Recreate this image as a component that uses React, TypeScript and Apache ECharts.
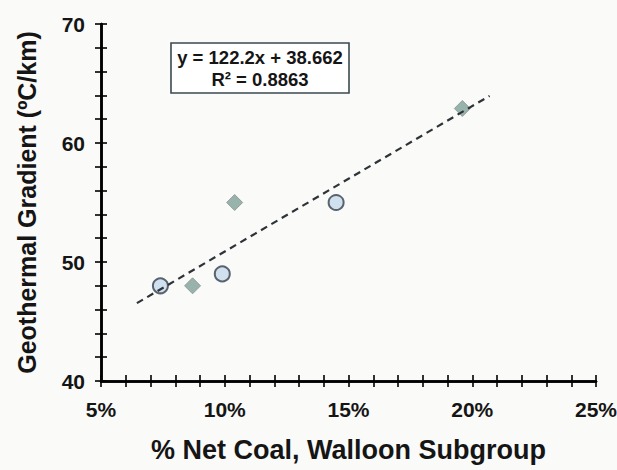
import React, { useEffect, useRef } from "react";
import * as echarts from "echarts";

// % net coal (x, in %) vs geothermal gradient (y, °C/km)
const circleX = [7.4, 9.9, 14.5];
const circleY = [48, 49, 55];
const diamondX = [8.7, 10.4, 19.6];
const diamondY = [48, 55, 62.9];
// trendline endpoints (y = 122.2x + 38.662)
const trendX = [6.45, 20.7];
const trendY = [46.54, 63.96];
const xTicks = ["5%", "10%", "15%", "20%", "25%"];
const yTicks = ["40", "50", "60", "70"];
const xTitle = "% Net Coal, Walloon Subgroup";
const yTitle = "Geothermal Gradient (ºC/km)";
const equationText = "y = 122.2x + 38.662";
const r2Text = "R² = 0.8863";

const FONT = "Liberation Sans, Arial, sans-serif";

export default function App() {
  const ref = useRef<HTMLDivElement>(null);
  useEffect(() => {
    if (!ref.current) return;
    const chart = echarts.init(ref.current, null, { renderer: "svg" });
    chart.setOption({
      animation: false,
      backgroundColor: "#fafaf8",
      title: {
        text: equationText + "\n" + r2Text,
        left: 254,
        top: 43,
        textAlign: "center",
        padding: [3, 6, 3, 6],
        borderColor: "#3a4a50",
        borderWidth: 1.6,
        backgroundColor: "#ffffff",
        textStyle: { color: "#151515", fontFamily: FONT, fontWeight: "bold", fontSize: 18.5, lineHeight: 22 },
      },
      grid: { left: 101, right: 21, top: 24, bottom: 89, outerBoundsMode: "none" },
      xAxis: [
        {
          type: "value", min: 5, max: 25, interval: 1, position: "bottom", splitLine: { show: false },
          axisLine: { show: true, onZero: false, lineStyle: { color: "#000000", width: 2.5 } },
          axisTick: { show: true, length: 6, lineStyle: { color: "#000000", width: 1.6 } },
          axisLabel: {
            margin: 18, color: "#151515", fontFamily: FONT, fontWeight: "bold", fontSize: 21,
            formatter: (v: number) => {
              const i = xTicks.indexOf(`${v}%`);
              return i >= 0 ? xTicks[i] : "";
            },
          },
          name: xTitle, nameLocation: "middle", nameGap: 55,
          nameTextStyle: { color: "#151515", fontFamily: FONT, fontWeight: "bold", fontSize: 27 },
        },
        {
          type: "value", min: 5, max: 25, interval: 1, position: "bottom", splitLine: { show: false },
          axisLine: { show: true, onZero: false, lineStyle: { color: "#000000", width: 2.5 } },
          axisTick: { show: true, inside: true, length: 6, lineStyle: { color: "#000000", width: 1.6 } },
          axisLabel: { show: false },
        },
      ],
      yAxis: [
        {
          type: "value", min: 40, max: 70, interval: 2, position: "left", splitLine: { show: false },
          axisLine: { show: true, onZero: false, lineStyle: { color: "#000000", width: 2.5 } },
          axisTick: { show: true, length: 6, lineStyle: { color: "#000000", width: 1.6 } },
          axisLabel: {
            margin: 16, color: "#151515", fontFamily: FONT, fontWeight: "bold", fontSize: 21,
            formatter: (v: number) => (yTicks.includes(String(v)) ? String(v) : ""),
          },
          name: yTitle, nameLocation: "middle", nameGap: 62,
          nameTextStyle: { color: "#151515", fontFamily: FONT, fontWeight: "bold", fontSize: 25 },
        },
        {
          type: "value", min: 40, max: 70, interval: 2, position: "left", splitLine: { show: false },
          axisLine: { show: true, onZero: false, lineStyle: { color: "#000000", width: 2.5 } },
          axisTick: { show: true, inside: true, length: 6, lineStyle: { color: "#000000", width: 1.6 } },
          axisLabel: { show: false },
        },
      ],
      series: [
        {
          type: "scatter",
          data: circleX.map((x, i) => [x, circleY[i]]),
          symbol: "circle",
          symbolSize: 15,
          itemStyle: { color: "#c6daec", borderColor: "#35404c", borderWidth: 2 },
          z: 3,
          markLine: {
            silent: true,
            symbol: ["none", "none"],
            label: { show: false },
            lineStyle: { color: "#2e3338", width: 2.2, type: [7, 5] },
            data: [[{ coord: [trendX[0], trendY[0]] }, { coord: [trendX[1], trendY[1]] }]],
          },
        },
        {
          type: "scatter",
          data: diamondX.map((x, i) => [x, diamondY[i]]),
          symbol: "diamond",
          symbolSize: 16,
          itemStyle: { color: "#7fa198", borderColor: "#8a9094", borderWidth: 1 },
          z: 3,
        },
      ],
    });
    return () => chart.dispose();
  }, []);
  return <div ref={ref} style={{ width: 617, height: 470, position: "absolute", left: 0, top: 0 }} />;
}
